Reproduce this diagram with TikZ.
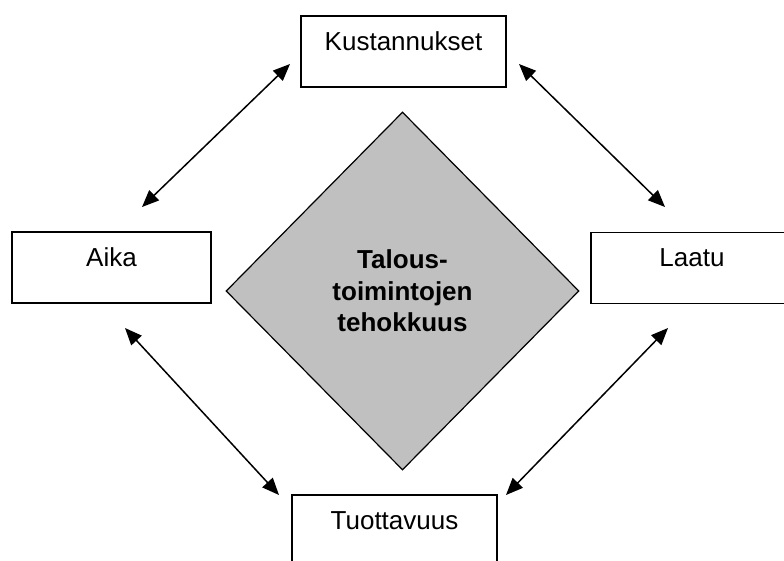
\documentclass[tikz,border=0pt]{standalone}
\usepackage{fontspec}
\setmainfont{Liberation Sans}
\usetikzlibrary{arrows.meta,shapes.geometric}
\definecolor{dgray}{RGB}{192,192,192}
\tikzset{
  box/.style={draw=black, line width=1.5pt, rectangle, minimum height=71pt, inner sep=0pt},
  lbl/.style={font=\fontsize{26}{31}\selectfont, anchor=base, inner sep=0pt},
  center/.style={diamond, draw=black, line width=1.2pt, fill=dgray, minimum width=353pt, minimum height=358pt, inner sep=0pt,
    align=center, font=\fontsize{26}{31.5}\selectfont\bfseries},
  link/.style={line width=1.5pt, {Triangle[length=17pt,width=14pt]}-{Triangle[length=17pt,width=14pt]}}
}
\begin{document}
\begin{tikzpicture}[x=1pt,y=-1pt]
\useasboundingbox (0,0) rectangle (784,560);
\clip (0,0) rectangle (784,560);
\fill[white] (0,0) rectangle (784,560);
% boxes
\node[box, minimum width=205pt] (k) at (403.5,51.5) {};
\node[box, minimum width=199pt] (a) at (111.5,267.5) {};
\node[box, minimum width=210pt] (l) at (696,268) {};
\node[box, minimum width=205pt] (t) at (394.5,530.5) {};
\node[lbl] (kt) at ([yshift=-35pt]k.north) {Kustannukset};
\node[lbl] (at) at ([yshift=-35pt]a.north) {Aika};
\node[lbl] (lt) at ([yshift=-35pt,xshift=-4pt]l.north) {Laatu};
\node[lbl] (tt) at ([yshift=-35pt]t.north) {Tuottavuus};
% centre diamond
\node[center] (c) at (402.5,291) {Talous-\\toimintojen\\tehokkuus};
% arrow ends
\coordinate (p1) at (290,64);
\coordinate (p2) at (142,207);
\coordinate (q1) at (519,64);
\coordinate (q2) at (665,207);
\coordinate (r1) at (125,328);
\coordinate (r2) at (279,495);
\coordinate (s1) at (668,328);
\coordinate (s2) at (506,495);
\draw[link] (p1) -- (p2);
\draw[link] (q1) -- (q2);
\draw[link] (r1) -- (r2);
\draw[link] (s1) -- (s2);
\end{tikzpicture}
\end{document}
